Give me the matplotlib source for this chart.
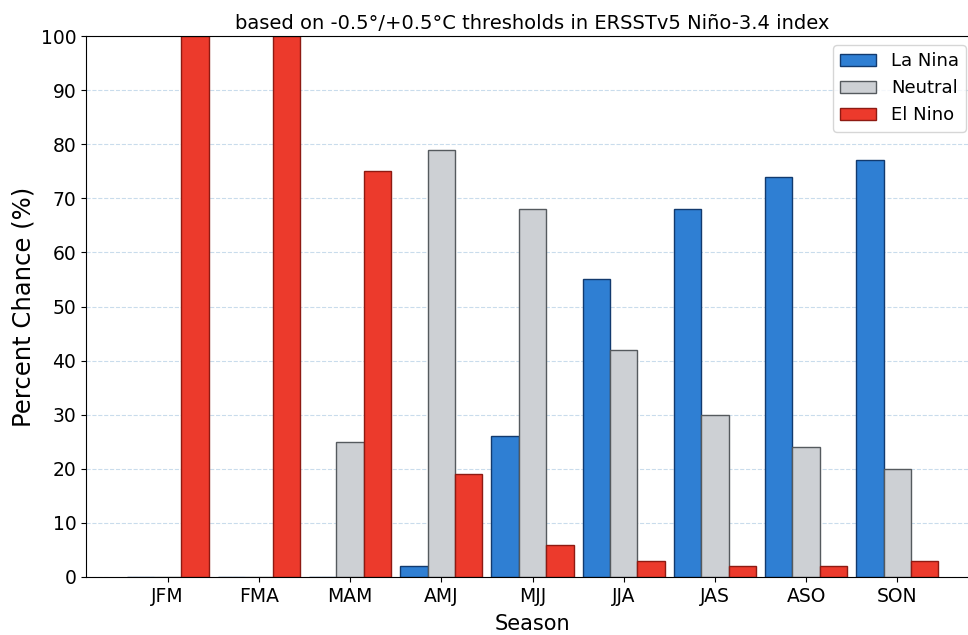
import matplotlib.pyplot as plt
import numpy as np

seasons = ['JFM', 'FMA', 'MAM', 'AMJ', 'MJJ', 'JJA', 'JAS', 'ASO', 'SON']
la_nina = [0, 0, 0, 2, 26, 55, 68, 74, 77]
neutral = [0, 0, 25, 79, 68, 42, 30, 24, 20]
el_nino = [100, 100, 75, 19, 6, 3, 2, 2, 3]

fig = plt.figure(figsize=(9.68, 6.35), dpi=100)
# axes runs a bit past the right edge, like the cropped original
ax = fig.add_axes([86 / 968, 58 / 635, 893 / 968, 541 / 635])

x = np.arange(len(seasons))
w = 0.3
ax.bar(x - w, la_nina, w, color='#2f7fd3', edgecolor='#123a6e', linewidth=1, label='La Nina')
ax.bar(x, neutral, w, color='#cdd0d4', edgecolor='#555a5e', linewidth=1, label='Neutral')
ax.bar(x + w, el_nino, w, color='#ec3a2c', edgecolor='#8e1a12', linewidth=1, label='El Nino')

ax.set_ylim(0, 100)
ax.set_yticks(range(0, 101, 10))
ax.set_xticks(x)
ax.set_xticklabels(seasons)
ax.tick_params(labelsize=13.5)
ax.yaxis.grid(True, color='#c9dcec', linestyle='--', linewidth=0.8)
ax.set_axisbelow(True)

ax.set_xlabel('Season', fontsize=15, labelpad=6)
ax.set_ylabel('Percent Chance (%)', fontsize=17.5)
ax.set_title('based on -0.5°/+0.5°C thresholds in ERSSTv5 Niño-3.4 index', fontsize=14, pad=5)

ax.legend(loc='upper left', bbox_to_anchor=((833 - 86) / 893, (577 - 45) / 541),
          borderaxespad=0, fontsize=13, handlelength=2)

plt.savefig('out.png')
